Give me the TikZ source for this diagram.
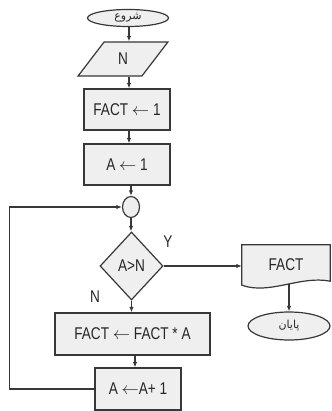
\documentclass[tikz,border=0pt]{standalone}
\usepackage{fontspec}
\setmainfont[FakeStretch=0.8]{Liberation Sans}
\newfontfamily\arabicfont[Script=Arabic]{DejaVu Sans}
\TeXXeTstate=1
\usetikzlibrary{shapes.geometric,arrows.meta,backgrounds}
\definecolor{boxfill}{HTML}{EFEFEF}
\definecolor{edge}{HTML}{383838}
\tikzset{
  base/.style={draw=edge, fill=boxfill, line width=1.2pt, inner sep=0pt,
               font=\fontsize{17}{17}\selectfont, text=black!85},
  terminal/.style={base, ellipse},
  io/.style={base, trapezium, trapezium left angle=60, trapezium right angle=120,
             trapezium stretches=true},
  process/.style={base, rectangle},
  joint/.style={base, ellipse},
  decision/.style={base, diamond},
  docbox/.style={draw=edge, fill=boxfill, line width=1.2pt},
  arr/.style={draw=edge, line width=1.2pt, -{Latex[length=5.5pt,width=4.5pt]}},
  lbl/.style={font=\fontsize{17}{17}\selectfont, text=black!85, inner sep=0pt}
}
\begin{document}
\begin{tikzpicture}[x=1pt, y=-1pt]
  \useasboundingbox (0,0) rectangle (331,411);

  % main column
  \node[terminal, minimum width=81pt, minimum height=17pt,
        font=\fontsize{11}{11}\arabicfont] (start) at (128,18) {\beginR شروع\endR};
  \node[io, minimum width=90pt, minimum height=34pt] (inp) at (123,59) {N};
  \node[process, minimum width=86pt, minimum height=41pt] (b1) at (127,109.5) {FACT $\leftarrow$ 1};
  \node[process, minimum width=86pt, minimum height=41pt] (b2) at (127,164.5) {A $\leftarrow$ 1};
  \node[joint, minimum width=17pt, minimum height=21pt] (join) at (131,207) {};
  \node[decision, minimum width=63pt, minimum height=68pt] (dec) at (131.5,266) {A>N};
  \node[process, minimum width=155pt, minimum height=42pt] (b3) at (132.5,334) {FACT $\leftarrow$ FACT * A};
  \node[process, minimum width=86pt, minimum height=42pt] (b4) at (138,389) {A $\leftarrow$A+ 1};

  % output branch
  \node[lbl, minimum width=88pt, minimum height=40pt] (fact) at (286,265) {FACT};
  \begin{pgfonlayer}{background}
    \path[docbox] (fact.south west) -- (fact.north west) -- (fact.north east)
      -- ([yshift=4pt]fact.south east)
      .. controls ([xshift=-30pt,yshift=10pt]fact.south east)
             and ([xshift=28pt,yshift=-10pt]fact.south west) .. (fact.south west)
      -- cycle;
  \end{pgfonlayer}
  \node[terminal, minimum width=82pt, minimum height=28pt,
        font=\fontsize{11}{11}\arabicfont] (end) at (289,326) {\beginR پایان\endR};

  % branch labels
  \node[lbl] (ylab) at (168,242) {Y};
  \node[lbl] (nlab) at (95,297) {N};

  % connectors
  \draw[arr] (start.south -| 129,0) -- (inp.north -| 129,0);
  \draw[arr] (inp.south -| 129,0) -- (b1.north -| 129,0);
  \draw[arr] (b1.south -| 129,0) -- (b2.north -| 129,0);
  \draw[arr] (b2.south -| join.north) -- (join.north);
  \draw[arr] (join.south) -- (join.south |- dec.north);
  \draw[arr] (dec.south) -- (dec.south |- b3.north);
  \draw[arr] (b3.south -| 135,0) -- (b4.north -| 135,0);
  \draw[arr] (b4.west) -- ++(-85,0) |- (join.west);
  \draw[arr] (dec.east) -- (dec.east -| fact.west);
  \draw[arr] ([yshift=1pt]fact.south -| end.north) -- (end.north);
\end{tikzpicture}
\end{document}
